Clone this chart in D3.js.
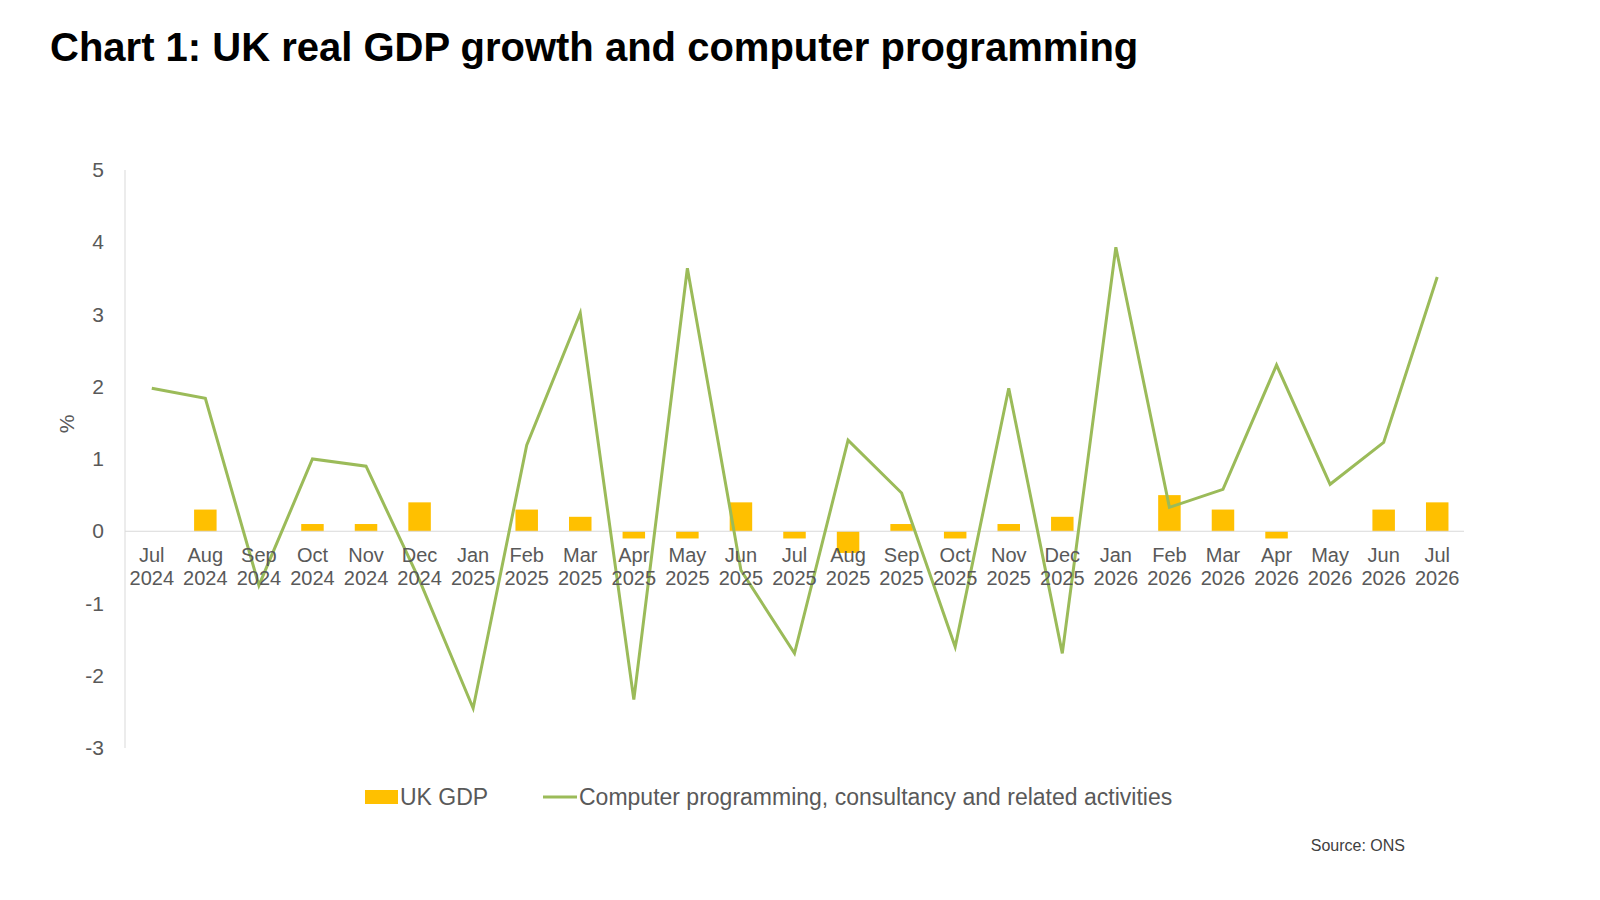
<!DOCTYPE html><html><head><meta charset="utf-8"><script src="https://cdn.jsdelivr.net/npm/d3@7"></script>
<style>body{margin:0;background:#fff;font-family:"Liberation Sans",Arial,sans-serif}</style></head><body><svg id="c" width="1600" height="900"></svg>
<script>
const months=["Jul","Aug","Sep","Oct","Nov","Dec","Jan","Feb","Mar","Apr","May","Jun","Jul","Aug","Sep","Oct","Nov","Dec","Jan","Feb","Mar","Apr","May","Jun","Jul"];
const years=["2024","2024","2024","2024","2024","2024","2025","2025","2025","2025","2025","2025","2025","2025","2025","2025","2025","2025","2026","2026","2026","2026","2026","2026","2026"];
const gdp=[0,0.3,0,0.1,0.1,0.4,0,0.3,0.2,-0.1,-0.1,0.4,-0.1,-0.3,0.1,-0.1,0.1,0.2,0,0.5,0.3,-0.1,0,0.3,0.4];
const prog=[1.98,1.84,-0.75,1.0,0.9,-0.68,-2.45,1.19,3.02,-2.33,3.64,-0.54,-1.69,1.26,0.53,-1.6,1.98,-1.69,3.93,0.33,0.58,2.3,0.65,1.23,3.52];
const yTicks=[5,4,3,2,1,0,-1,-2,-3];
const svg=d3.select("#c");
const idx=months.map((m,i)=>i);
const x=d3.scaleBand().domain(idx).range([125,1464]).paddingInner(0.58).paddingOuter(0.29);
const y=d3.scaleLinear().domain([-3,5]).range([748,170]);
const cx=i=>x(i)+x.bandwidth()/2;
svg.append("text").attr("x",50).attr("y",61).attr("font-size",40).attr("font-weight","bold").attr("fill","#000").text("Chart 1: UK real GDP growth and computer programming");
svg.append("line").attr("x1",125).attr("x2",125).attr("y1",170).attr("y2",748).attr("stroke","#d9d9d9");
svg.selectAll(".yt").data(yTicks).join("text").attr("x",104).attr("y",d=>y(d)+7).attr("text-anchor","end").attr("font-size",21).attr("fill","#595959").text(d=>d);
svg.append("text").attr("transform","translate(74,424) rotate(-90)").attr("text-anchor","middle").attr("font-size",21).attr("fill","#595959").text("%");
svg.selectAll(".bar").data(gdp).join("rect").attr("x",(d,i)=>x(i)).attr("width",x.bandwidth()).attr("y",d=>y(Math.max(0,d))).attr("height",d=>Math.abs(y(d)-y(0))).attr("fill","#FFC000");
svg.append("line").attr("x1",125).attr("x2",1464).attr("y1",y(0)).attr("y2",y(0)).attr("stroke","#d9d9d9");
svg.append("path").datum(prog).attr("d",d3.line().x((d,i)=>cx(i)).y(d=>y(d))).attr("fill","none").attr("stroke","#9BBB59").attr("stroke-width",3);
const lab=svg.selectAll(".xl").data(idx).join("text").attr("text-anchor","middle").attr("font-size",20).attr("fill","#595959");
lab.append("tspan").attr("x",i=>cx(i)).attr("y",562).text(i=>months[i]);
lab.append("tspan").attr("x",i=>cx(i)).attr("y",585).text(i=>years[i]);
svg.append("rect").attr("x",365).attr("y",790).attr("width",33).attr("height",14).attr("fill","#FFC000");
svg.append("text").attr("x",400).attr("y",805).attr("font-size",23).attr("fill","#595959").text("UK GDP");
svg.append("line").attr("x1",543).attr("x2",577).attr("y1",797).attr("y2",797).attr("stroke","#9BBB59").attr("stroke-width",3);
svg.append("text").attr("x",579).attr("y",805).attr("font-size",23).attr("fill","#595959").text("Computer programming, consultancy and related activities");
svg.append("text").attr("x",1405).attr("y",851).attr("text-anchor","end").attr("font-size",16).attr("fill","#404040").text("Source: ONS");
</script></body></html>
